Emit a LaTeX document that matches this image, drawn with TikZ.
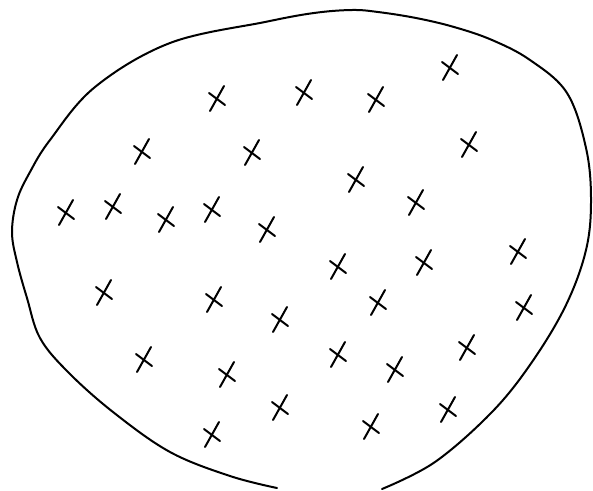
\documentclass[tikz,border=0pt]{standalone}
\begin{document}
\begin{tikzpicture}[x=1pt,y=-1pt,
  outline/.style={line width=2pt,line cap=round,line join=round},
  xmark/.pic={
    \draw[line width=2pt,line cap=round] (-7,12) -- (7,-13);
    \draw[line width=2pt,line cap=round] (-8,-6) -- (8,6);
  }]
\useasboundingbox (0,0) rectangle (593,490);
\draw[outline] plot[smooth,tension=0.6] coordinates {
  (277,488) (230,476) (170,452) (113,412) (68,372) (40,338) (27,298)
  (17,262) (12,232) (17,200) (30,172) (50,140) (95,87) (170,43) (265,22)
  (314,13) (352,10) (378,12) (416,18) (454,27) (492,40) (530,60) (567,93)
  (586,148) (591,200) (586,250) (566,305) (532,362) (492,412)
  (435,462) (382,489)};
\foreach \p in {(450,68),(217,99),(304,93),(376,100),(142,152),(252,153),
  (469,145),(356,180),(416,203),(66,213),(113,207),(166,220),(212,210),
  (267,230),(518,252),(338,267),(424,263),(104,293),(214,300),(280,320),
  (378,303),(524,308),(467,348),(144,360),(338,355),(395,370),(227,375),
  (280,408),(448,410),(371,427),(212,435)}
  \pic at \p {xmark};
\end{tikzpicture}
\end{document}
